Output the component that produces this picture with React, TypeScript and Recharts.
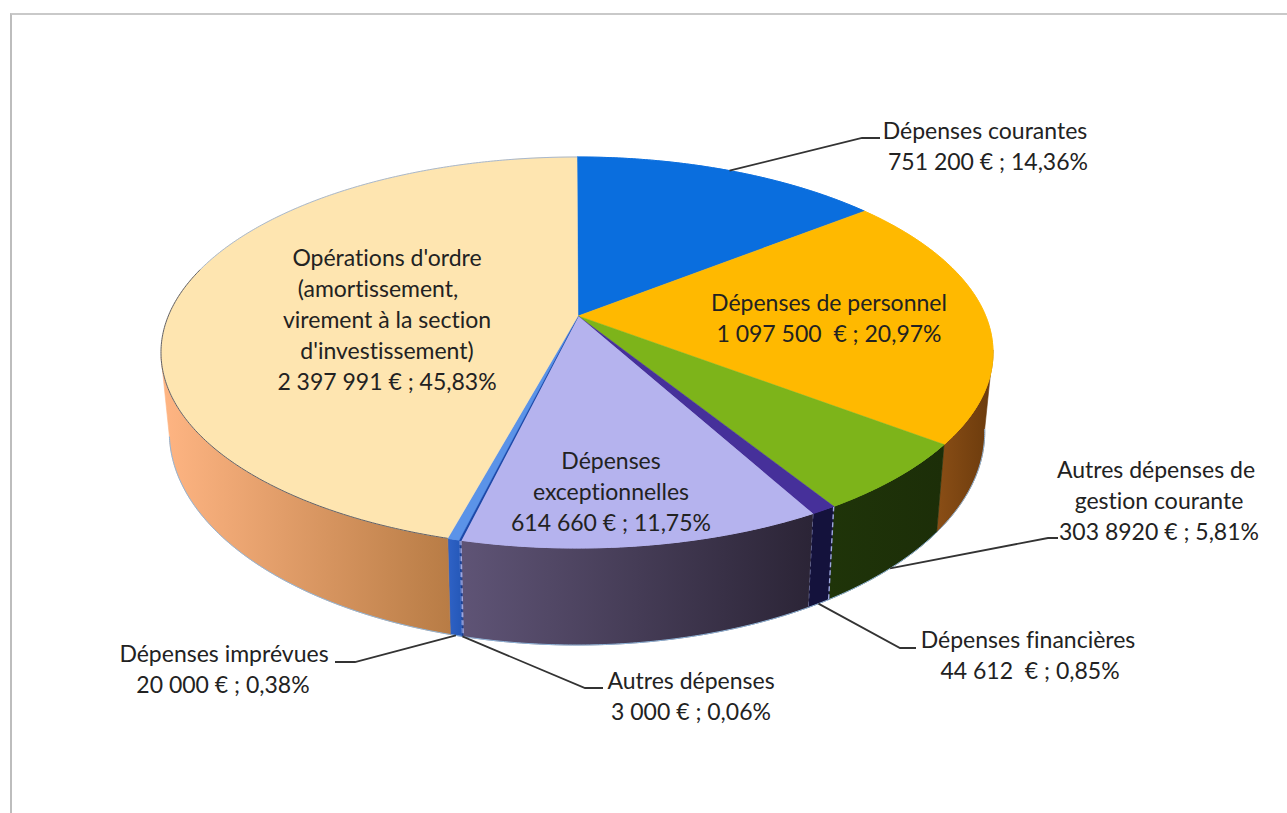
import React from "react";
import { PieChart, Pie } from "recharts";

// Budget lines, clockwise from twelve o'clock
const categories = [
  "Dépenses courantes",
  "Dépenses de personnel",
  "Autres dépenses de gestion courante",
  "Dépenses financières",
  "Dépenses exceptionnelles",
  "Autres dépenses",
  "Dépenses imprévues",
  "Opérations d'ordre",
];
const amounts = [751200, 1097500, 303892, 44612, 614660, 3000, 20000, 2397991];
const labelLines = [
  ["Dépenses courantes", "751 200 € ; 14,36%"],
  ["Dépenses de personnel", "1 097 500  € ; 20,97%"],
  ["Autres dépenses de", "gestion courante", "303 8920 € ; 5,81%"],
  ["Dépenses financières", "44 612  € ; 0,85%"],
  ["Dépenses", "exceptionnelles", "614 660 € ; 11,75%"],
  ["Autres dépenses", "3 000 € ; 0,06%"],
  ["Dépenses imprévues", "20 000 € ; 0,38%"],
  ["Opérations d'ordre", "(amortissement,", "virement à la section", "d'investissement)", "2 397 991 € ; 45,83%"],
];

const rows = categories.map((name, i) => ({ name, value: amounts[i] }));

// Slice appearance
const topColors = ["#0A6EDE", "#FFB900", "#7DB41A", "#46309A", "#B5B3EE", "#1D49A8", "#5B93E8", "#FEE5B0"];
const wallStops = [
  ["#0A4EA0", "#0A4EA0"],
  ["#8A4E16", "#6A3A0C"],
  ["#1F3409", "#1C2E08"],
  ["#14123C", "#14123C"],
  ["#5F5476", "#2B2436"],
  ["#173E94", "#173E94"],
  ["#2F62C6", "#2558B8"],
  ["#FFB583", "#B87C45"],
];

// Label placement: line centres, first line y, and optional leader elbow points
const LINE_HEIGHT = 31;
const labelLayout = [
  { x: [985, 988], y: 130, elbow: [862, 138], end: [880, 138], from: "top" },
  { x: [829, 829], y: 302 },
  { x: [1156, 1159, 1159], y: 469, elbow: [1048, 538], end: [1058, 538], from: "bottom" },
  { x: [1028, 1030], y: 639, elbow: [900, 648], end: [916, 648], from: "bottom" },
  { x: [611, 611, 611], y: 460 },
  { x: [691, 691], y: 680, elbow: [585, 688], end: [603, 688], from: "bottom" },
  { x: [224, 223], y: 653, elbow: [355, 662], end: [335, 662], from: "bottom" },
  { x: [387, 378, 387, 387, 387], y: 257 },
];

// Perspective projection of the disc onto the page
const CX = 578;
const CY = 316;
const RIM_SHIFT = -1;
const RX = 408.7;
const RY = 188.7;
const TILT = 0.1867;
const WALL_SHRINK = 0.98;

const rad = (deg: number) => (deg * Math.PI) / 180;

// theta is measured clockwise from the top of the disc
const rimTop = (theta: number): [number, number] => {
  const u = Math.sin(rad(theta));
  const v = Math.cos(rad(theta));
  const w = 1 + TILT * v;
  return [CX + RIM_SHIFT + (RX * u) / w, CY - (RY * v) / w];
};

const rimBottom = (theta: number): [number, number] => {
  const [x, y] = rimTop(theta);
  const depth = 97 - (548 - y) * 0.09;
  return [CX + (x - CX) * WALL_SHRINK, y + depth];
};

const sweep = (from: number, to: number, fn: (t: number) => [number, number]) => {
  const pts: [number, number][] = [];
  const n = Math.max(2, Math.ceil(Math.abs(to - from) * 2));
  for (let i = 0; i <= n; i++) pts.push(fn(from + ((to - from) * i) / n));
  return pts;
};

const toPath = (pts: [number, number][]) =>
  pts.map((p, i) => `${i ? "L" : "M"}${p[0].toFixed(2)} ${p[1].toFixed(2)}`).join(" ");

const WALL_START = 100;
const WALL_END = 258;
const FRONT_EDGE_END = 285;

const DiscSlice = (props: any) => {
  const i = categories.indexOf(props.name);
  const from = 90 - props.startAngle;
  const to = 90 - props.endAngle;
  const rim = sweep(from, to, rimTop);
  const topPath = `M${CX} ${CY} ${toPath(rim).replace("M", "L")} Z`;

  const a = Math.max(from, WALL_START);
  const b = Math.min(to, WALL_END);
  const hasWall = b > a;
  const front = hasWall ? sweep(a, b, rimTop) : [];
  const back = hasWall ? sweep(a, b, rimBottom).reverse() : [];

  const isFrontDark = i === 3 || i === 5;
  const isLargest = i === 7;
  return (
    <g>
      {hasWall && (
        <path d={`${toPath([...front, ...back])} Z`} fill={`url(#wall-${i})`} stroke={`url(#wall-${i})`} strokeWidth={0.6} />
      )}
      {hasWall && isFrontDark && (
        <>
          <line x1={rimTop(a)[0]} y1={rimTop(a)[1]} x2={rimBottom(a)[0]} y2={rimBottom(a)[1]} stroke="#9FA8E0" strokeWidth={1.4} strokeDasharray="5 3" />
          <line x1={rimTop(b)[0]} y1={rimTop(b)[1]} x2={rimBottom(b)[0]} y2={rimBottom(b)[1]} stroke="#9FA8E0" strokeWidth={1.4} strokeDasharray="5 3" />
        </>
      )}
      {hasWall && <path d={toPath(sweep(a, b, rimBottom))} fill="none" stroke="#8FB4D8" strokeWidth={1} />}
      <path d={topPath} fill={topColors[i]} stroke={topColors[i]} strokeWidth={i === 5 ? 1.5 : 0.5} />
      {isLargest ? (
        <>
          <path d={toPath(sweep(from, FRONT_EDGE_END, rimTop))} fill="none" stroke="#5F6068" strokeWidth={1} />
          <path d={toPath(sweep(FRONT_EDGE_END, to, rimTop))} fill="none" stroke="#A8B8CE" strokeWidth={1} />
        </>
      ) : (
        <path d={toPath(rim)} fill="none" stroke={topColors[i]} strokeWidth={1} />
      )}
    </g>
  );
};

const SliceLabel = (props: any) => {
  const i = categories.indexOf(props.name);
  const layout = labelLayout[i];
  const theta = 90 - props.midAngle;
  const anchor = layout.from === "top" ? rimTop(theta) : rimBottom(theta);
  return (
    <g>
      {layout.elbow && (
        <polyline
          points={`${anchor[0]},${anchor[1]} ${layout.elbow[0]},${layout.elbow[1]} ${layout.end[0]},${layout.end[1]}`}
          fill="none"
          stroke="#333333"
          strokeWidth={1.8}
        />
      )}
      {labelLines[i].map((line, k) => (
        <text
          key={k}
          x={layout.x[k]}
          y={layout.y + k * LINE_HEIGHT}
          textAnchor="middle"
          dominantBaseline="central"
          fontFamily="Lato, 'Open Sans', sans-serif"
          fontSize={23}
          fill="#222222"
          style={{ whiteSpace: "pre", fontVariantLigatures: "none" }}
        >
          {line}
        </text>
      ))}
    </g>
  );
};

export default function App() {
  return (
    <div style={{ position: "absolute", left: 0, top: 0, width: 1287, height: 813, background: "#FFFFFF", overflow: "hidden" }}>
      <div style={{ position: "absolute", left: 10, top: 13, width: 1277, height: 800, borderLeft: "2px solid #BDBDBD", borderTop: "2px solid #C9C9C9" }} />
      <div style={{ position: "absolute", left: 0, top: 0 }}>
        <PieChart width={1287} height={813} margin={{ top: 0, right: 0, bottom: 0, left: 0 }}>
          <defs>
            {wallStops.map((stops, i) => (
              <linearGradient key={i} id={`wall-${i}`} x1="0" y1="0" x2="1" y2="0">
                <stop offset="0%" stopColor={stops[0]} />
                <stop offset="100%" stopColor={stops[1]} />
              </linearGradient>
            ))}
          </defs>
          <Pie
            data={rows}
            dataKey="value"
            nameKey="name"
            cx={CX}
            cy={CY}
            outerRadius={RX}
            startAngle={90}
            endAngle={-270}
            paddingAngle={0}
            stroke="none"
            isAnimationActive={false}
            shape={DiscSlice}
            label={SliceLabel}
            labelLine={false}
          />
        </PieChart>
      </div>
    </div>
  );
}
